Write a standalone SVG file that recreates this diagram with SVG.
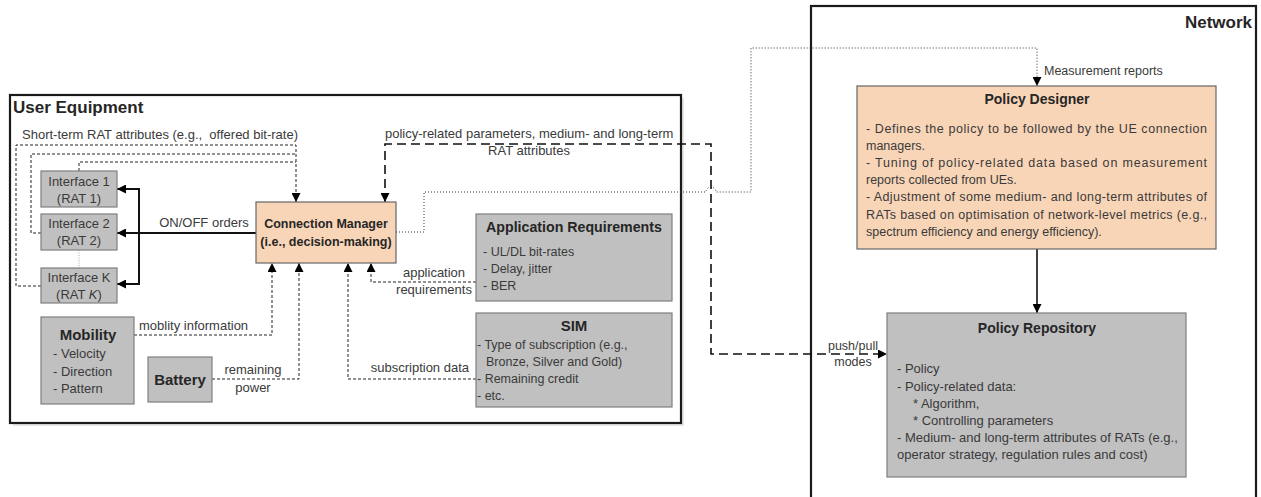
<svg xmlns="http://www.w3.org/2000/svg" width="1261" height="497" viewBox="0 0 1261 497">
<defs>
<marker id="arr" markerWidth="9" markerHeight="9" refX="9" refY="4.5" orient="auto-start-reverse" markerUnits="userSpaceOnUse">
<path d="M0,0 L9,4.5 L0,9 z" fill="#000"/>
</marker>
<style>
text{font-family:"Liberation Sans",Arial,sans-serif;fill:#3a3a3a;}
.t{font-weight:bold;fill:#262626;}
.c{text-anchor:middle;}
.gray{fill:#c0c0c0;stroke:#7f7f7f;stroke-width:1.2;}
.peach{fill:#f9d5b8;stroke:#666;stroke-width:1.2;}
.frame{fill:none;stroke:#1a1a1a;stroke-width:2.2;}
.ueframe{fill:#fff;stroke:#1a1a1a;stroke-width:2.2;}
.fine{fill:none;stroke:#222;stroke-width:1;stroke-dasharray:3,2;}
.long{fill:none;stroke:#111;stroke-width:1.6;stroke-dasharray:9,5;}
.dot{fill:none;stroke:#333;stroke-width:1;stroke-dasharray:1,2;}
.solid{fill:none;stroke:#111;stroke-width:2;}
.b{font-size:12.5px;}
.lb{font-size:13px;}
</style>
</defs>
<rect width="1261" height="497" fill="#fff"/>

<g id="user-equipment">
<rect x="13" y="98" width="671" height="328" fill="#e6e6e6"/>
<rect x="10" y="95" width="671" height="328" class="ueframe"/>
<text x="13" y="113" class="t" font-size="17">User Equipment</text>
</g>

<g id="network">
<rect x="811" y="6" width="445" height="494" class="frame"/>
<text x="1252" y="28" class="t" font-size="17" text-anchor="end">Network</text>
</g>

<g id="connectors">
<path class="fine" d="M41,286 H16 V145 H296 V202" marker-end="url(#arr)"/>
<path class="fine" d="M41,233 H31 V154 H296"/>
<path class="fine" d="M79,171 V162 H296"/>
<path d="M79,250 V268" fill="none" stroke="#aaa" stroke-width="1" stroke-dasharray="1,1.5"/>
<path class="solid" d="M256,233 H117" marker-end="url(#arr)"/>
<path class="solid" d="M139,233 V189 H117" marker-end="url(#arr)"/>
<path class="solid" d="M139,233 V284 H117" marker-end="url(#arr)"/>
<path class="fine" d="M134,335 H272 V263" marker-end="url(#arr)"/>
<path class="fine" d="M212,379 H299 V263" marker-end="url(#arr)"/>
<path class="fine" d="M476,379 H348 V263" marker-end="url(#arr)"/>
<path class="fine" d="M476,282 H371 V263" marker-end="url(#arr)"/>
<path class="long" d="M385,202 V144 H711 V354 H887" marker-start="url(#arr)" marker-end="url(#arr)"/>
<path class="dot" d="M396,232 H424 V192 H706 A5,5 0 0 1 716,192 H751 V48 H1037 V86" marker-end="url(#arr)"/>
<path d="M1037,249 V313" fill="none" stroke="#111" stroke-width="1.6" marker-end="url(#arr)"/>
<text x="22" y="139" class="lb" xml:space="preserve" font-size="12.7">Short-term RAT attributes (e.g.,  offered bit-rate)</text>
<text x="204" y="227" class="lb c">ON/OFF orders</text>
<text x="385" y="138" class="lb">policy-related parameters, medium- and long-term</text>
<text x="529" y="155" class="lb c">RAT attributes</text>
<text x="434" y="277" class="lb c">application</text>
<text x="434" y="294" class="lb c">requirements</text>
<text x="139" y="330" class="lb">moblity information</text>
<text x="253" y="374" class="lb c">remaining</text>
<text x="253" y="392" class="lb c">power</text>
<text x="469" y="372" class="lb" text-anchor="end">subscription data</text>
<text x="1044" y="75" class="b">Measurement reports</text>
<text x="853" y="350" class="b c">push/pull</text>
<text x="853" y="366" class="b c">modes</text>
</g>

<g id="interface-1">
<rect x="41" y="171" width="76" height="36" class="gray"/>
<text x="79" y="186" class="lb c">Interface 1</text>
<text x="79" y="203" class="lb c">(RAT 1)</text>
</g>
<g id="interface-2">
<rect x="41" y="214" width="76" height="36" class="gray"/>
<text x="79" y="228" class="lb c">Interface 2</text>
<text x="79" y="245" class="lb c">(RAT 2)</text>
</g>
<g id="interface-k">
<rect x="41" y="268" width="76" height="35" class="gray"/>
<text x="79" y="282" class="lb c">Interface K</text>
<text x="79" y="299" class="lb c">(RAT <tspan font-style="italic">K</tspan>)</text>
</g>

<g id="connection-manager">
<rect x="256" y="202" width="140" height="61" class="peach"/>
<text x="326" y="228" class="t c" font-size="12.5">Connection Manager</text>
<text x="326" y="246" class="t c" font-size="12.5">(i.e., decision-making)</text>
</g>

<g id="application-requirements">
<rect x="476" y="214" width="196" height="87" class="gray"/>
<text x="574" y="232" class="t c" font-size="14.2">Application Requirements</text>
<text x="483" y="256" class="b">- UL/DL bit-rates</text>
<text x="483" y="273" class="b">- Delay, jitter</text>
<text x="483" y="290" class="b">- BER</text>
</g>

<g id="sim">
<rect x="476" y="313" width="196" height="94" class="gray"/>
<text x="574" y="331" class="t c" font-size="15">SIM</text>
<text x="477" y="349" class="b">- Type of subscription (e.g.,</text>
<text x="486" y="366" class="b">Bronze, Silver and Gold)</text>
<text x="477" y="383" class="b">- Remaining credit</text>
<text x="477" y="400" class="b">- etc.</text>
</g>

<g id="mobility">
<rect x="41" y="317" width="93" height="87" class="gray"/>
<text x="88" y="340" class="t c" font-size="15">Mobility</text>
<text x="53" y="358" class="lb">- Velocity</text>
<text x="53" y="376" class="lb">- Direction</text>
<text x="53" y="393" class="lb">- Pattern</text>
</g>

<g id="battery">
<rect x="148" y="357" width="64" height="45" class="gray"/>
<text x="180" y="385" class="t c" font-size="15">Battery</text>
</g>

<g id="policy-designer">
<rect x="857" y="86" width="359" height="163" class="peach"/>
<text x="1037" y="104" class="t c" font-size="14">Policy Designer</text>
<text x="866" y="133" class="b" textLength="341" lengthAdjust="spacing">- Defines the policy to be followed by the UE connection</text>
<text x="866" y="150" class="b">managers.</text>
<text x="866" y="167" class="b" textLength="341" lengthAdjust="spacing">- Tuning of policy-related data based on measurement</text>
<text x="866" y="184" class="b">reports collected from UEs.</text>
<text x="866" y="201" class="b" textLength="341" lengthAdjust="spacing">- Adjustment of some medium- and long-term attributes of</text>
<text x="866" y="219" class="b" textLength="341" lengthAdjust="spacing">RATs based on optimisation of network-level metrics (e.g.,</text>
<text x="866" y="236" class="b">spectrum efficiency and energy efficiency).</text>
</g>

<g id="policy-repository">
<rect x="887" y="313" width="299" height="164" class="gray"/>
<text x="1037" y="333" class="t c" font-size="14">Policy Repository</text>
<text x="897" y="373" class="lb">- Policy</text>
<text x="897" y="391" class="lb">- Policy-related data:</text>
<text x="913" y="408" class="lb">* Algorithm,</text>
<text x="913" y="425" class="lb">* Controlling parameters</text>
<text x="897" y="442" class="lb">- Medium- and long-term attributes of RATs (e.g.,</text>
<text x="897" y="459" class="lb">operator strategy, regulation rules and cost)</text>
</g>
</svg>
